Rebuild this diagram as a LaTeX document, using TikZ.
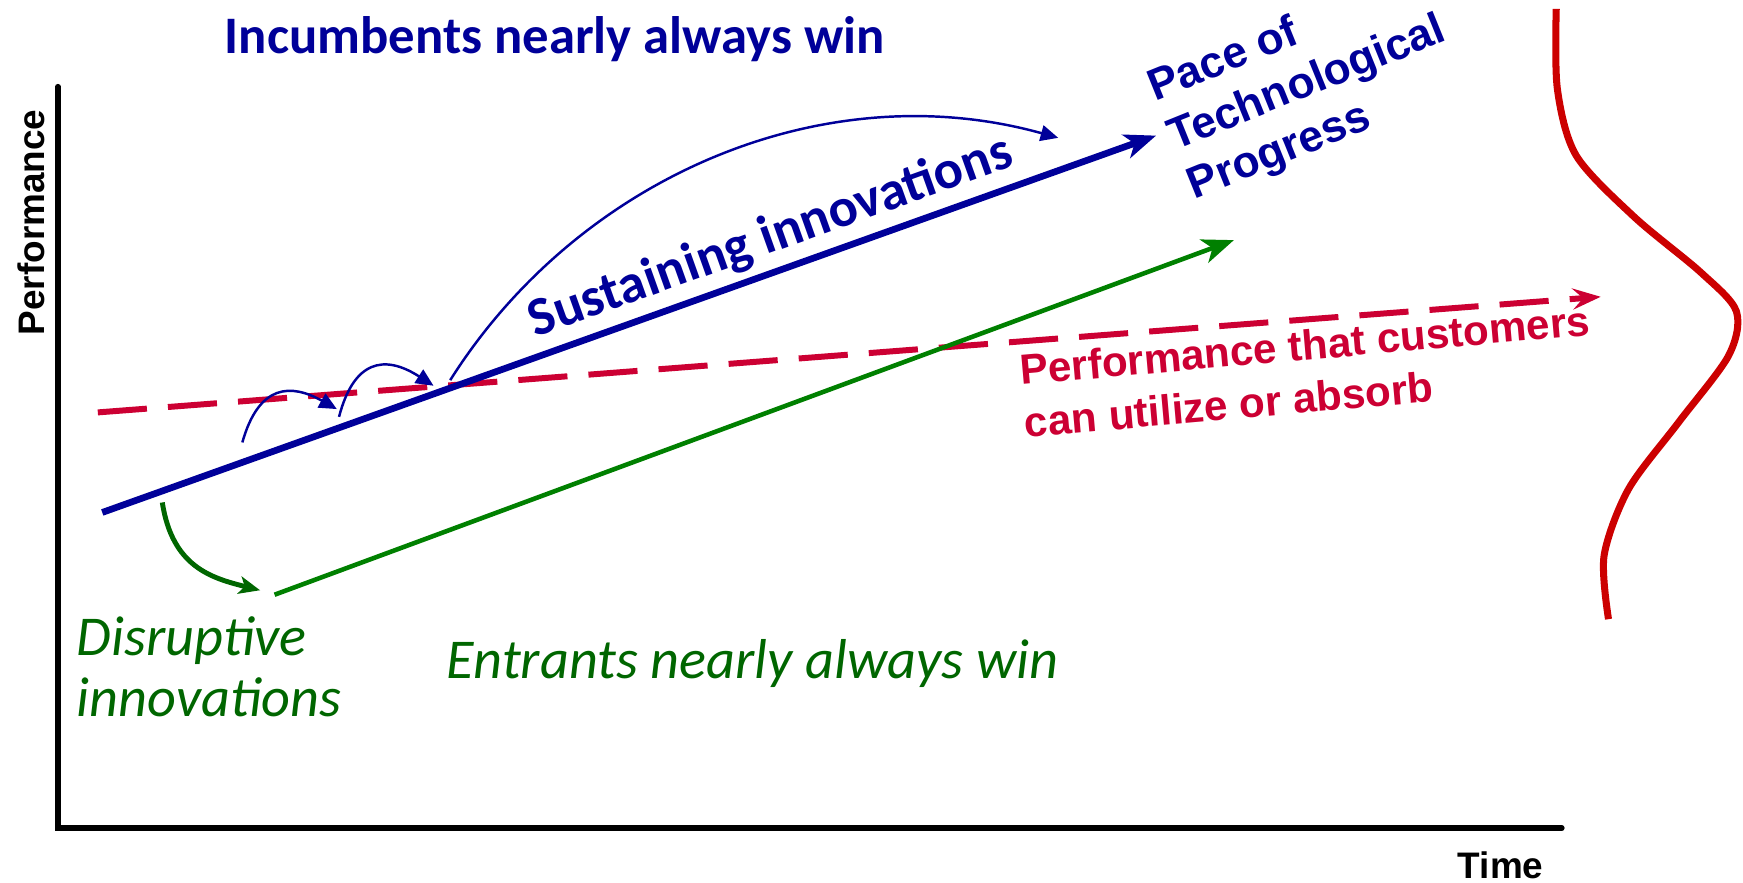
\documentclass[tikz,border=0pt]{standalone}
\usepackage{fontspec}
\newfontfamily\calibri{Carlito}
\newfontfamily\arial{Liberation Sans}
\usetikzlibrary{arrows.meta}
\definecolor{incblue}{RGB}{0,0,153}
\definecolor{entgreen}{RGB}{0,128,0}
\definecolor{disgreen}{RGB}{0,102,0}
\definecolor{custred}{RGB}{204,0,51}
\definecolor{curvered}{RGB}{204,0,0}

\begin{document}
\begin{tikzpicture}[x=0.11116mm, y=-0.11116mm,
  axis/.style={line width=1.6pt, line cap=round},
  axislabel/.style={font=\arial\bfseries\fontsize{10.5}{12}\selectfont},
  trend/.style={line width=1.9pt, -{Stealth[length=9pt,width=7pt,inset=2.5pt]}},
  hop/.style={incblue, line width=0.7pt, -{Triangle[length=5pt,width=4.5pt]}}]
\useasboundingbox (0,0) rectangle (1568,794);

% axes
\coordinate (top) at (52,78);
\coordinate (origin) at (52,745);
\coordinate (right) at (1405,745);
\draw[axis] (top) -- (origin) -- (right);
\node[axislabel, rotate=90] (perf) at (28,200) {Performance};
\node[axislabel] (time) at (1350,778) {Time};

% trajectories
\coordinate (sus0) at (92,461);
\coordinate (sus1) at (1040,122);
\coordinate (ent0) at (247,535);
\coordinate (ent1) at (1110,216);
\coordinate (cust0) at (88,371);
\coordinate (cust1) at (1440,267);
\draw[trend, custred, line width=1.7pt, dash pattern=on 14pt off 6pt,
  -{Stealth[length=8pt,width=6pt,inset=3pt]}] (cust0) -- (cust1);
\draw[trend, incblue] (sus0) -- node[sloped, above=-1.5pt, pos=0.645,
  font=\calibri\bfseries\fontsize{15.5}{18}\selectfont] (sustext) {Sustaining innovations} (sus1);
\draw[trend, entgreen, line width=1.3pt] (ent0) -- (ent1);

% jumps along the sustaining curve
\coordinate (h1) at (218,398);
\coordinate (h2) at (303,368);
\coordinate (h3) at (305,375);
\coordinate (h4) at (390,347);
\coordinate (h5) at (405,342);
\coordinate (h6) at (952,124);
\draw[hop] (h1) .. controls (233,345) and (262,345) .. (h2);
\draw[hop] (h3) .. controls (318,325) and (345,318) .. (h4);
\draw[hop] (h5) .. controls (520,160) and (740,65) .. (h6);

% disruptive jump down
\coordinate (d0) at (146,452);
\coordinate (d1) at (234,531);
\draw[disgreen, line width=1.4pt, -{Stealth[length=6pt,width=5pt,inset=1.5pt]}]
  (d0) .. controls (155,510) and (190,520) .. (d1);

% customer demand distribution
\draw[curvered, line width=2pt] plot[smooth] coordinates {(1400,8) (1401,80)
  (1418,140) (1470,195) (1530,245) (1562,280) (1555,320) (1510,380) (1465,440)
  (1443,500) (1447,557)};

% labels
\node[incblue, font=\calibri\bfseries\fontsize{15}{18}\selectfont] (inc) at (499,35)
  {Incumbents nearly always win};
\node[incblue, rotate=22, anchor=west, align=left,
  font=\arial\bfseries\fontsize{12.6}{15}\selectfont]
  (pace) at (1043,130) {Pace of\\Technological\\Progress};
\node[custred, rotate=5, align=left, font=\arial\bfseries\fontsize{12}{15}\selectfont]
  (custtext) at (1176,334) {Performance that customers\\can utilize or absorb};
\node[disgreen, anchor=west, align=left, font=\calibri\itshape\fontsize{16}{17.5}\selectfont]
  (distext) at (58,600) {Disruptive\\innovations};
\node[disgreen, font=\calibri\itshape\fontsize{16}{18}\selectfont] (enttext) at (677,597)
  {Entrants nearly always win};
\end{tikzpicture}
\end{document}
